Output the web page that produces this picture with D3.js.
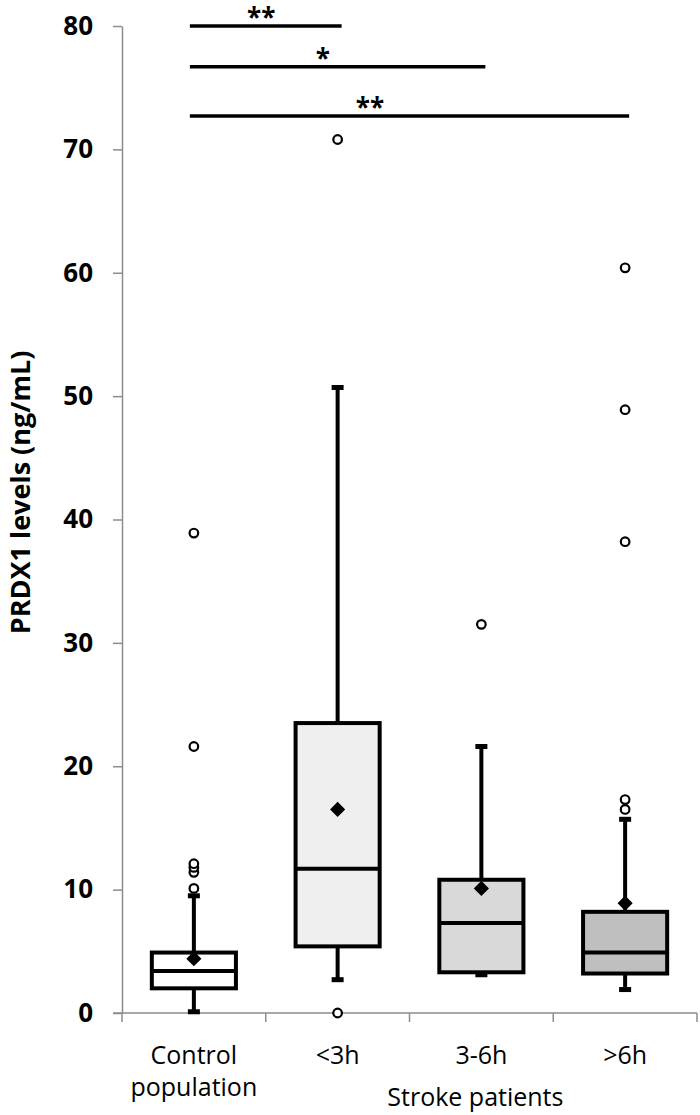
<!DOCTYPE html>
<html>
<head>
<meta charset="utf-8">
<script src="https://cdn.jsdelivr.net/npm/d3@7"></script>
<style>
  body { margin: 0; background: #fff; }
  svg { display: block; font-family: "Open Sans", "DejaVu Sans", sans-serif; }
</style>
</head>
<body>
<svg></svg>
<script>
// values (ng/mL)
const categories = ["Control population", "<3h", "3-6h", ">6h"];
const whiskerLow = [0.1, 2.7, 3.1, 1.9];
const q1 = [2.0, 5.4, 3.3, 3.2];
const medians = [3.4, 11.7, 7.3, 4.9];
const q3 = [4.9, 23.5, 10.8, 8.2];
const whiskerHigh = [9.5, 50.7, 21.6, 15.7];
const means = [4.4, 16.5, 10.1, 8.9];
const outliers = [
    [10.1, 11.4, 11.8, 12.1, 21.6, 38.9],
    [0, 70.8],
    [31.5],
    [16.5, 17.3, 38.2, 48.9, 60.4]
];
const boxFills = ["#ffffff", "#efefef", "#d9d9d9", "#bfbfbf"];

// significance bars from the control group
const sigTargets = ["<3h", "3-6h", ">6h"];
const sigLevels = [80, 76.7, 72.7];
const sigLabels = ["**", "*", "**"];

const yTicks = [0, 10, 20, 30, 40, 50, 60, 70, 80];

function main() {
    const width = 700;
    const height = 1115;
    const left = 122, right = 697, top = 26, bottom = 1013;

    let svg = d3.select("svg")
        .attr("width", width)
        .attr("height", height);

    let y = d3.scaleLinear().domain([0, 80]).range([bottom, top]);
    let x = d3.scaleBand().domain(categories).range([left, right]);
    const boxW = x.bandwidth() * 0.585;
    const cx = (c) => x(c) + x.bandwidth() / 2;

    // y axis
    let yAxis = svg.append("g")
        .attr("transform", `translate(${left},0)`)
        .call(d3.axisLeft(y).tickValues(yTicks).tickSize(9).tickPadding(20).tickSizeOuter(0));
    yAxis.select(".domain").attr("stroke", "#8c8c8c").attr("stroke-width", 1.5);
    yAxis.selectAll(".tick line").attr("stroke", "#8c8c8c").attr("stroke-width", 1.5);
    yAxis.selectAll(".tick text")
        .attr("font-size", 26)
        .attr("font-weight", "bold")
        .attr("fill", "#000")
        .attr("font-family", "'Open Sans', sans-serif");

    // x axis: ticks at the category boundaries
    let xg = svg.append("g");
    xg.append("line")
        .attr("x1", left - 9).attr("x2", right)
        .attr("y1", y(0)).attr("y2", y(0))
        .attr("stroke", "#8c8c8c").attr("stroke-width", 1.5);
    let bounds = categories.map(c => x(c)).concat([right]);
    xg.selectAll("line.xt")
        .data(bounds)
        .join("line")
        .attr("class", "xt")
        .attr("x1", d => d).attr("x2", d => d)
        .attr("y1", y(0)).attr("y2", y(0) + 9)
        .attr("stroke", "#8c8c8c").attr("stroke-width", 1.5);

    // category labels
    let labels = svg.append("g")
        .attr("font-size", 25)
        .attr("fill", "#000")
        .attr("text-anchor", "middle");
    categories.forEach((c, i) => {
        let t = labels.append("text").attr("x", cx(c)).attr("y", 1064);
        if (i === 0) {
            t.append("tspan").attr("x", cx(c)).text("Control");
            t.append("tspan").attr("x", cx(c)).attr("dy", 32).text("population");
        } else {
            t.text(c);
        }
    });
    labels.append("text")
        .attr("x", cx("3-6h") - 6)
        .attr("y", 1106)
        .text("Stroke patients");

    // y axis title
    svg.append("text")
        .text("PRDX1 levels (ng/mL)")
        .attr("font-size", 27)
        .attr("font-weight", "bold")
        .attr("fill", "#000")
        .attr("text-anchor", "middle")
        .attr("transform", `translate(30, ${(top + bottom) / 2 - 27}) rotate(-90)`);

    let boxes = svg.append("g");
    categories.forEach((c, i) => {
        let g = boxes.append("g");
        let mx = cx(c);

        // whiskers
        g.append("line")
            .attr("x1", mx).attr("x2", mx)
            .attr("y1", y(whiskerLow[i])).attr("y2", y(whiskerHigh[i]))
            .attr("stroke", "#000").attr("stroke-width", 4);
        [whiskerLow[i], whiskerHigh[i]].forEach(v => {
            g.append("rect")
                .attr("x", mx - 6).attr("y", y(v) - 2.5)
                .attr("width", 12).attr("height", 5)
                .attr("fill", "#000");
        });

        // box
        g.append("rect")
            .attr("x", mx - boxW / 2)
            .attr("y", y(q3[i]))
            .attr("width", boxW)
            .attr("height", y(q1[i]) - y(q3[i]))
            .attr("fill", boxFills[i])
            .attr("stroke", "#000")
            .attr("stroke-width", 4);
        g.append("line")
            .attr("x1", mx - boxW / 2).attr("x2", mx + boxW / 2)
            .attr("y1", y(medians[i])).attr("y2", y(medians[i]))
            .attr("stroke", "#000").attr("stroke-width", 4);

        // mean
        g.append("path")
            .attr("d", d3.symbol(d3.symbolSquare, 115)())
            .attr("transform", `translate(${mx},${y(means[i])}) rotate(45)`)
            .attr("fill", "#000");

        // outliers
        g.selectAll("circle")
            .data(outliers[i])
            .join("circle")
            .attr("cx", mx)
            .attr("cy", d => y(d))
            .attr("r", 4.3)
            .attr("fill", "#fff")
            .attr("stroke", "#000")
            .attr("stroke-width", 2.2);
    });

    // significance bars
    const starFrac = [0.47, 0.45, 0.41];
    let sig = svg.append("g");
    sigTargets.forEach((t, i) => {
        let x1 = cx(categories[0]) - 4;
        let x2 = cx(t) + 4;
        sig.append("line")
            .attr("x1", x1).attr("x2", x2)
            .attr("y1", y(sigLevels[i])).attr("y2", y(sigLevels[i]))
            .attr("stroke", "#000").attr("stroke-width", 3.5);
        sig.append("text")
            .text(sigLabels[i])
            .attr("x", x1 + (x2 - x1) * starFrac[i])
            .attr("y", y(sigLevels[i]) + 1)
            .attr("text-anchor", "middle")
            .attr("font-size", 26)
            .attr("font-weight", "bold")
            .attr("fill", "#000");
    });
}

main();
</script>
</body>
</html>
